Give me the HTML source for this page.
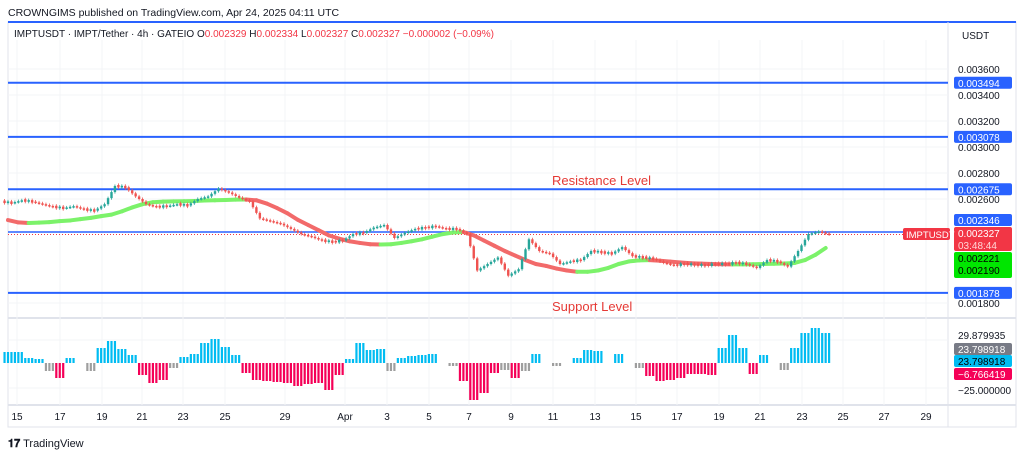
<!DOCTYPE html>
<html><head><meta charset="utf-8"><style>
body{margin:0;background:#fff;width:1024px;height:458px;overflow:hidden;font-family:"Liberation Sans",sans-serif}
svg text{font-family:"Liberation Sans",sans-serif}
</style></head><body>
<svg id="c" width="1024" height="458" xmlns="http://www.w3.org/2000/svg"></svg>
<script>
const closes=[2570,2590,2580,2560,2540,2530,2545,2520,2510,2560,2700,2690,2620,2560,2540,2545,2560,2550,2600,2620,2680,2650,2610,2580,2450,2430,2410,2370,2330,2310,2280,2270,2280,2330,2340,2380,2400,2300,2340,2370,2380,2390,2370,2370,2330,2050,2100,2150,2010,2060,2290,2200,2180,2100,2120,2130,2200,2190,2180,2230,2160,2150,2140,2110,2090,2100,2095,2090,2100,2100,2110,2100,2070,2130,2120,2080,2200,2330,2350,2327];
const maValues=[2438,2420,2415,2418,2422,2430,2435,2445,2455,2468,2480,2505,2535,2560,2575,2580,2582,2583,2585,2588,2590,2592,2595,2596,2590,2565,2530,2490,2440,2400,2360,2320,2295,2275,2262,2252,2250,2252,2262,2275,2290,2310,2330,2342,2346,2320,2280,2240,2200,2165,2130,2100,2085,2065,2050,2040,2040,2050,2070,2100,2120,2128,2130,2125,2118,2112,2106,2103,2100,2098,2097,2097,2098,2100,2102,2104,2108,2130,2170,2223];
const histValues=[11,11,5,4,-8,-15,5,0,-8,15,22,14,8,-12,-20,-17,-5,6,9,20,24,16,8,-10,-17,-18,-19,-20,-23,-21,-20,-27,-12,4,20,13,14,-8,5,7,8,9,0,-3,-18,-37,-30,-10,-7,-15,-8,9,0,-3,0,5,13,12,0,9,0,-5,-13,-18,-17,-15,-11,-11,-12,15,28,15,-11,8,0,-7,15,30,35,30];
const levelValues=[3494,3078,2675,1878];
const priceTicks=[3600,3400,3200,3000,2800,2600,1800];
const timeLabels=["15","17","19","21","23","25","29","Apr","3","5","7","9","11","13","15","17","19","21","23","25","27","29"];
const timeLabelX=[17,60,102,142,183,225,285,345,387,429,469,511,553,595,636,677,719,760,802,843,884,926];

const S=document.getElementById('c');const NS='http://www.w3.org/2000/svg';
function mk(t,a,txt){const e=document.createElementNS(NS,t);for(const k in a)e.setAttribute(k,a[k]);if(txt!==undefined)e.textContent=txt;S.appendChild(e);return e;}
const y=p=>69+(3600-p)*0.13;
const x=i=>8+i*10.35;
const hy=v=>363-v*1.0;
let e;
e=mk('rect',{x:8,y:22,width:1008,height:405,fill:'none',stroke:'#e0e3eb'});

e=mk('line',{x1:8,y1:22,x2:1016,y2:22,stroke:'#2962ff','stroke-width':2});

mk('line',{x1:948,y1:22,x2:948,y2:427,stroke:'#e0e3eb'});
mk('line',{x1:8,y1:318,x2:1016,y2:318,stroke:'#e0e3eb','stroke-width':2});
mk('line',{x1:8,y1:405,x2:1016,y2:405,stroke:'#e0e3eb','stroke-width':2});
timeLabelX.forEach(px=>{mk('line',{x1:px,y1:40,x2:px,y2:405,stroke:'#f3f4f7'});});
priceTicks.forEach(p=>{mk('line',{x1:8,y1:y(p),x2:948,y2:y(p),stroke:'#f3f4f7'});});
[340,388].forEach(v=>mk('line',{x1:8,y1:v,x2:948,y2:v,stroke:'#f3f4f7'}));
e=mk('text',{x:8,y:16,'font-size':10.5,fill:'#131722'},'CROWNGIMS published on TradingView.com, Apr 24, 2025 04:11 UTC');

e=mk('text',{x:14,y:37,'font-size':10,fill:'#131722'});

e.innerHTML='IMPTUSDT · IMPT/Tether · 4h · GATEIO  O<tspan fill="#f23645">0.002329</tspan>  H<tspan fill="#f23645">0.002334</tspan>  L<tspan fill="#f23645">0.002327</tspan>  C<tspan fill="#f23645">0.002327</tspan>  <tspan fill="#f23645">−0.000002 (−0.09%)</tspan>';
e.setAttribute('xml:space','preserve');
e=mk('text',{x:962,y:39,'font-size':10,fill:'#131722'},'USDT');

priceTicks.forEach(p=>{e=mk('text',{x:958,y:y(p)+4,'font-size':10,fill:'#131722'},'0.00'+p);
});
levelValues.forEach(p=>{e=mk('line',{x1:8,y1:y(p),x2:948,y2:y(p),stroke:'#2962ff','stroke-width':2});
});
e=mk('line',{x1:8,y1:y(2346),x2:948,y2:y(2346),stroke:'#2962ff','stroke-width':1.5});

e=mk('line',{x1:8,y1:y(2327),x2:948,y2:y(2327),stroke:'#f23645','stroke-width':1,'stroke-dasharray':'1,2'});

e=mk('text',{x:552,y:185,'font-size':13,fill:'#e53935'},'Resistance Level');

e=mk('text',{x:552,y:311,'font-size':13,fill:'#e53935'},'Support Level');

for(let i=1;i<maValues.length;i++){const up=maValues[i]>=maValues[i-1];
e=mk('line',{x1:x(i-1),y1:y(maValues[i-1]),x2:x(i),y2:y(maValues[i]),stroke:up?'#7cf26a':'#f26a6a','stroke-width':4,'stroke-linecap':'round'});
}
// candles: 3 sub-candles per 12h value
for(let i=0;i<closes.length;i++){const prev=i?closes[i-1]:closes[0]+10,c=closes[i];
for(let k=0;k<3;k++){
const o=prev+(c-prev)*k/3, cl=prev+(c-prev)*(k+1)/3;
const dir=(k===1)?-1:1;
const oo=Math.abs(c-prev)<15?o+dir*8:o, cc=Math.abs(c-prev)<15?cl-dir*8:cl;
const up=cc>=oo;const col=up?'#26a69a':'#ef5350';
const hi=Math.max(oo,cc)+12,lo=Math.min(oo,cc)-12;
const cx=x(i)+(k-1)*3.45;
e=mk('line',{x1:cx,y1:y(hi),x2:cx,y2:y(lo),stroke:col,'stroke-width':0.8});

e=mk('rect',{x:cx-1.2,y:y(Math.max(oo,cc)),width:2.4,height:Math.max(1.5,Math.abs(y(oo)-y(cc))),fill:col});
}}
for(let i=0;i<histValues.length;i++){const v=histValues[i];if(v===0)continue;
const col=v>0?'#00bcf2':(v<=-10?'#f50057':'#9e9e9e');
for(let k=-1;k<=1;k++){const bx=x(i)+k*3.45;
e=mk('rect',{x:bx-1.1,y:Math.min(hy(v),hy(0)),width:2.2,height:Math.abs(hy(v)-hy(0)),fill:col});
}}
function badge(yc,h,fill,lines,tc,name){e=mk('rect',{x:954,y:yc-h/2,width:58,height:h,rx:2,fill:fill});

lines.forEach((t,j)=>{mk('text',{x:958,y:yc-h/2+10+j*12,'font-size':10,fill:tc[j]||tc[0]},t);});}
levelValues.forEach(p=>badge(y(p),12,'#2962ff',['0.00'+p],['#fff'],'level-price-badge'));
badge(220,12,'#2962ff',['0.002346'],['#fff'],'level-price-badge');
badge(239,24,'#f23645',['0.002327','03:48:44'],['#fff','#ffd6d6'],'last-price-badge');
badge(265,26,'#00e600',['0.002221','0.002190'],['#000'],'ma-price-badge');
e=mk('rect',{x:903,y:228,width:47,height:12,rx:2,fill:'#f23645'});

mk('text',{x:906,y:238,'font-size':9.5,fill:'#fff'},'IMPTUSDT');
e=mk('text',{x:958,y:339,'font-size':10,fill:'#131722'},'29.879935');

badge(349,12,'#787b86',['23.798918'],['#fff'],'osc-badge');
badge(361,12,'#00bcf2',['23.798918'],['#000'],'osc-badge');
badge(374,12,'#f50057',['−6.766419'],['#fff'],'osc-badge');
e=mk('text',{x:958,y:394,'font-size':10,fill:'#131722'},'−25.000000');

timeLabels.forEach((t,j)=>{e=mk('text',{x:timeLabelX[j],y:420,'font-size':10,fill:'#131722','text-anchor':'middle'},t);
});
e=mk('text',{x:8,y:447,'font-size':11,fill:'#131722'},'');

e.innerHTML='<tspan font-weight="bold">𝟏𝟕</tspan> TradingView';
</script>
</body></html>
